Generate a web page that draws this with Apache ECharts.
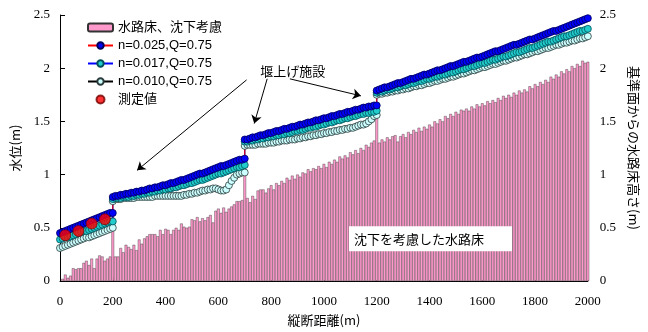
<!DOCTYPE html>
<html><head><meta charset="utf-8">
<script src="https://cdn.jsdelivr.net/npm/echarts@6/dist/echarts.min.js"></script>
<style>html,body{margin:0;padding:0;background:#fff}#c{width:648px;height:332px}</style>
</head><body><div id="c"></div>
<script>
// Canal bed heights (m above datum), one bar every 10 m from 10 m to 2000 m
const bedStations = [];
for (let d = 10; d <= 2000; d += 10) bedStations.push(d);
const bedHeight = [
  0.02,0.06,0.03,0.05,0.12,0.11,0.12,0.12,0.17,0.19,0.15,0.21,0.12,0.21,0.24,0.23,0.19,0.21,0.23,
  0.65,
  0.23,0.23,0.31,0.27,0.34,0.32,0.30,0.34,0.29,0.39,0.35,0.40,0.42,0.44,0.44,0.44,0.42,0.48,0.44,0.49,
  0.48,0.44,0.48,0.50,0.48,0.54,0.51,0.50,0.51,0.58,0.57,0.60,0.56,0.59,0.57,0.60,0.62,0.55,0.66,0.68,
  0.64,0.69,0.65,0.68,0.70,0.72,0.75,0.75,0.76,
  1.11,
  0.78,0.74,0.80,0.77,0.85,0.86,0.86,0.83,0.87,0.90,0.86,0.92,0.90,0.94,0.92,0.97,0.95,0.99,0.96,1.00,
  0.98,1.02,1.01,1.05,1.03,1.06,1.05,1.08,1.06,1.10,1.07,1.12,1.10,1.14,1.12,1.17,1.15,1.18,1.16,1.21,
  1.19,1.23,1.20,1.25,1.23,1.28,1.26,1.30,1.32,
  1.61,
  1.30,1.33,1.31,1.35,1.33,1.36,1.37,1.31,1.36,1.38,1.35,1.40,1.38,1.42,1.40,1.44,1.41,1.45,1.43,1.47,
  1.45,1.50,1.48,1.52,1.50,1.55,1.53,1.57,1.55,1.59,1.57,1.61,1.60,1.62,1.60,1.64,1.62,1.66,1.64,1.67,
  1.65,1.69,1.67,1.70,1.68,1.72,1.70,1.74,1.72,1.75,1.73,1.77,1.75,1.79,1.77,1.80,1.78,1.83,1.81,1.85,
  1.83,1.87,1.85,1.89,1.87,1.92,1.90,1.94,1.92,1.97,1.95,1.99,1.97,2.02,2.00,2.04,2.02,2.07,2.05,2.06
];

// Computed water levels: four reaches separated by weirs at 200, 700 and 1200 m, 10 m steps
const reachStart = [0, 200, 700, 1200];
const levelN025 = [
  [0.45,0.46,0.47,0.48,0.49,0.50,0.51,0.52,0.53,0.54,0.55,0.56,0.57,0.58,0.59,0.60,0.61,0.62,0.63,0.64,0.64],
  [0.79,0.80,0.80,0.81,0.81,0.82,0.82,0.83,0.83,0.84,0.84,0.85,0.85,0.86,0.87,0.87,0.88,0.88,0.89,0.90,
   0.90,0.91,0.92,0.92,0.93,0.94,0.95,0.95,0.96,0.97,0.98,0.99,1.00,1.01,1.01,1.02,1.03,1.04,1.05,1.06,
   1.07,1.08,1.08,1.09,1.10,1.11,1.12,1.13,1.14,1.14,1.15],
  [1.33,1.33,1.34,1.35,1.35,1.36,1.37,1.37,1.38,1.39,1.39,1.40,1.41,1.41,1.42,1.43,1.43,1.44,1.45,1.45,
   1.46,1.47,1.47,1.48,1.49,1.49,1.50,1.51,1.51,1.52,1.53,1.53,1.54,1.55,1.55,1.56,1.57,1.57,1.58,1.59,
   1.59,1.60,1.61,1.61,1.62,1.63,1.63,1.64,1.64,1.65,1.65],
  [1.79,1.80,1.81,1.82,1.82,1.83,1.84,1.85,1.86,1.86,1.87,1.88,1.89,1.90,1.90,1.91,1.92,1.93,1.94,1.94,
   1.95,1.96,1.97,1.98,1.98,1.99,2.00,2.01,2.02,2.02,2.03,2.04,2.05,2.06,2.06,2.07,2.08,2.09,2.10,2.10,
   2.11,2.12,2.13,2.14,2.15,2.16,2.16,2.17,2.18,2.19,2.20,2.21,2.22,2.22,2.23,2.24,2.25,2.26,2.27,2.27,
   2.28,2.29,2.30,2.31,2.32,2.33,2.34,2.35,2.35,2.36,2.37,2.38,2.39,2.40,2.41,2.42,2.43,2.44,2.45,2.46,2.47]
];
const levelN017 = [
  [0.39,0.40,0.41,0.41,0.42,0.43,0.44,0.45,0.46,0.47,0.47,0.48,0.49,0.50,0.51,0.52,0.53,0.54,0.55,0.56,0.56],
  [0.77,0.78,0.78,0.78,0.79,0.79,0.79,0.80,0.80,0.81,0.81,0.82,0.82,0.83,0.83,0.84,0.84,0.85,0.85,0.86,
   0.86,0.87,0.87,0.88,0.88,0.89,0.90,0.90,0.91,0.92,0.92,0.93,0.94,0.95,0.95,0.96,0.97,0.98,0.99,1.00,
   1.01,1.01,1.02,1.03,1.04,1.05,1.06,1.07,1.07,1.08,1.09],
  [1.31,1.31,1.32,1.32,1.33,1.33,1.34,1.34,1.35,1.35,1.36,1.36,1.37,1.37,1.38,1.38,1.39,1.39,1.40,1.41,
   1.41,1.42,1.42,1.43,1.44,1.44,1.45,1.45,1.46,1.47,1.47,1.48,1.49,1.49,1.50,1.51,1.51,1.52,1.53,1.53,
   1.54,1.55,1.55,1.56,1.57,1.57,1.58,1.58,1.59,1.59,1.60],
  [1.77,1.78,1.78,1.79,1.80,1.80,1.81,1.82,1.82,1.83,1.84,1.84,1.85,1.86,1.86,1.87,1.88,1.88,1.89,1.90,
   1.90,1.91,1.92,1.92,1.93,1.94,1.94,1.95,1.96,1.96,1.97,1.98,1.99,1.99,2.00,2.01,2.02,2.02,2.03,2.04,
   2.05,2.05,2.06,2.07,2.08,2.08,2.09,2.10,2.11,2.11,2.12,2.13,2.14,2.15,2.15,2.16,2.17,2.18,2.19,2.19,
   2.20,2.21,2.22,2.23,2.24,2.25,2.25,2.26,2.27,2.28,2.29,2.30,2.30,2.31,2.32,2.33,2.34,2.35,2.35,2.36,2.37]
];
const levelN010 = [
  [0.31,0.32,0.33,0.34,0.35,0.36,0.37,0.38,0.39,0.40,0.41,0.41,0.42,0.43,0.44,0.45,0.46,0.47,0.48,0.49,0.50],
  [0.75,0.77,0.77,0.77,0.78,0.78,0.78,0.78,0.78,0.79,0.79,0.79,0.79,0.79,0.79,0.79,0.80,0.80,0.80,0.80,
   0.80,0.80,0.80,0.80,0.80,0.80,0.80,0.81,0.81,0.82,0.82,0.83,0.83,0.84,0.85,0.85,0.86,0.86,0.87,0.87,
   0.86,0.85,0.85,0.86,0.90,0.94,0.97,1.00,1.01,1.02,1.02],
  [1.27,1.28,1.28,1.28,1.28,1.29,1.29,1.29,1.29,1.30,1.30,1.30,1.31,1.31,1.32,1.32,1.32,1.33,1.33,1.33,
   1.34,1.34,1.35,1.35,1.36,1.36,1.37,1.37,1.38,1.38,1.39,1.39,1.40,1.40,1.41,1.41,1.42,1.42,1.43,1.43,
   1.44,1.44,1.45,1.46,1.47,1.47,1.48,1.50,1.52,1.55,1.56],
  [1.75,1.76,1.76,1.77,1.77,1.78,1.78,1.79,1.79,1.80,1.80,1.81,1.81,1.82,1.83,1.83,1.84,1.84,1.85,1.86,
   1.86,1.87,1.88,1.88,1.89,1.90,1.90,1.91,1.92,1.92,1.93,1.94,1.95,1.95,1.96,1.97,1.98,1.98,1.99,2.00,
   2.01,2.01,2.02,2.03,2.04,2.04,2.05,2.06,2.07,2.07,2.08,2.09,2.10,2.10,2.11,2.12,2.13,2.13,2.14,2.15,
   2.16,2.16,2.17,2.18,2.19,2.19,2.20,2.21,2.22,2.22,2.23,2.24,2.24,2.25,2.26,2.26,2.27,2.28,2.28,2.29,2.30]
];

// Field measurements of water level
const measuredAt = [20, 70, 120, 170];
const measuredLevel = [0.43, 0.47, 0.54, 0.58];

// Axis ticks
const xTicks = { min: 0, max: 2000, step: 200 };
const yTicks = { min: 0, max: 2.5, step: 0.5 };

// Annotations (data coordinates)
const weirArrows = [
  [[707, 1.89], [292, 1.04]],
  [[785, 1.90], [736, 1.48]],
  [[871, 1.90], [1140, 1.74]]
];
const weirNote = { at: [882, 1.97], text: '堰上げ施設' };
const bedNote = { at: [1095, 0.396], text: '沈下を考慮した水路床' };

function reachPoints(reaches) {
  const pts = [];
  reaches.forEach((vals, r) => vals.forEach((v, i) => pts.push([reachStart[r] + 10 * i, v])));
  return pts;
}

const serif = '"Liberation Serif", "DejaVu Serif", serif';
const sans = '"Liberation Sans", "Noto Sans CJK JP", sans-serif';
const jp = '"Noto Sans CJK JP", sans-serif';

const chart = echarts.init(document.getElementById('c'), null, { renderer: 'canvas' });

const lineSeries = (name, reaches, lineColor, fill, border) => ({
  name, type: 'line', yAxisIndex: 0,
  data: reachPoints(reaches),
  symbol: 'circle', symbolSize: 7, showAllSymbol: true,
  lineStyle: { color: lineColor, width: 1 },
  itemStyle: { color: fill, borderColor: border, borderWidth: 0.8 },
  z: 3
});

chart.setOption({
  animation: false,
  backgroundColor: '#fff',
  grid: { left: 60, right: 53, top: 15, bottom: 49 },
  legend: {
    data: ['水路床、沈下考慮', 'n=0.025,Q=0.75', 'n=0.017,Q=0.75', 'n=0.010,Q=0.75', '測定値'],
    orient: 'vertical', left: 82, top: 16,
    itemWidth: 25, itemHeight: 8, itemGap: 5,
    textStyle: { fontFamily: sans, fontSize: 13, color: '#000' }
  },
  xAxis: {
    type: 'value', min: xTicks.min, max: xTicks.max, interval: xTicks.step,
    name: '縦断距離(m)', nameLocation: 'middle', nameGap: 33,
    nameTextStyle: { fontFamily: jp, fontSize: 13, color: '#000' },
    axisLine: { show: true, lineStyle: { color: '#000', width: 1 } },
    axisTick: { show: true, inside: true, length: 4, lineStyle: { color: '#000' } },
    axisLabel: { fontFamily: serif, fontSize: 13, color: '#000', margin: 14, formatter: v => String(v) },
    splitLine: { show: false }
  },
  yAxis: [{
    type: 'value', min: yTicks.min, max: yTicks.max, interval: yTicks.step, position: 'left',
    name: '水位(m)', nameLocation: 'middle', nameGap: 38,
    nameTextStyle: { fontFamily: jp, fontSize: 13, color: '#000' },
    axisLine: { show: true, lineStyle: { color: '#000', width: 1 } },
    axisTick: { show: true, inside: true, length: 5, lineStyle: { color: '#000' } },
    axisLabel: { fontFamily: serif, fontSize: 13, color: '#000', margin: 10 },
    splitLine: { show: false }
  }, {
    type: 'value', min: yTicks.min, max: yTicks.max, interval: yTicks.step, position: 'right',
    name: '基準面からの水路床高さ(m)', nameLocation: 'middle', nameGap: 35, nameRotate: -90,
    nameTextStyle: { fontFamily: jp, fontSize: 13, color: '#000' },
    axisLine: { show: false },
    axisTick: { show: false },
    axisLabel: { fontFamily: serif, fontSize: 13, color: '#000', margin: 12 },
    splitLine: { show: false }
  }],
  series: [
    {
      name: '水路床、沈下考慮', type: 'bar', yAxisIndex: 1,
      data: bedStations.map((d, i) => [d, bedHeight[i]]),
      barWidth: 2.7,
      itemStyle: { color: '#ff99cc', borderColor: '#333', borderWidth: 0.4 },
      z: 1
    },
    lineSeries('n=0.010,Q=0.75', levelN010, '#000', '#ccffff', '#2a3a3a'),
    lineSeries('n=0.017,Q=0.75', levelN017, '#0000ff', '#22cccc', '#00505a'),
    lineSeries('n=0.025,Q=0.75', levelN025, '#ff0000', '#0000ff', '#00005a'),
    {
      name: '測定値', type: 'scatter', yAxisIndex: 0,
      data: measuredAt.map((d, i) => [d, measuredLevel[i]]),
      symbol: 'circle', symbolSize: 11,
      itemStyle: { color: '#ff0000', borderColor: '#700000', borderWidth: 0.8 },
      z: 5
    },
    {
      // carries the weir arrows in data coordinates
      name: 'arrows', type: 'line', yAxisIndex: 0, silent: true,
      data: [], showSymbol: false,
      markLine: {
        silent: true, symbol: ['none', 'arrow'], symbolSize: 8,
        lineStyle: { color: '#000', width: 1, type: 'solid' },
        itemStyle: { color: '#000' },
        label: { show: false },
        emphasis: { disabled: true },
        data: weirArrows.map(a => [{ coord: a[0] }, { coord: a[1] }])
      },
      z: 6
    }
  ]
});

// Text annotations placed at data positions
const toPx = p => chart.convertToPixel({ xAxisIndex: 0, yAxisIndex: 0 }, p);
const wp = toPx(weirNote.at), bp = toPx(bedNote.at);
chart.setOption({
  graphic: [
    {
      type: 'text', x: wp[0], y: wp[1], z: 100,
      style: { text: weirNote.text, font: '13px "Noto Sans CJK JP", sans-serif', fill: '#000', align: 'center', verticalAlign: 'middle' }
    },
    {
      type: 'text', x: bp[0], y: bp[1], z: 100,
      style: {
        text: bedNote.text, font: '13px "Noto Sans CJK JP", sans-serif', fill: '#000',
        align: 'left', verticalAlign: 'middle',
        backgroundColor: '#ffffff', padding: [6, 28, 6, 5]
      }
    }
  ]
});
</script></body></html>
